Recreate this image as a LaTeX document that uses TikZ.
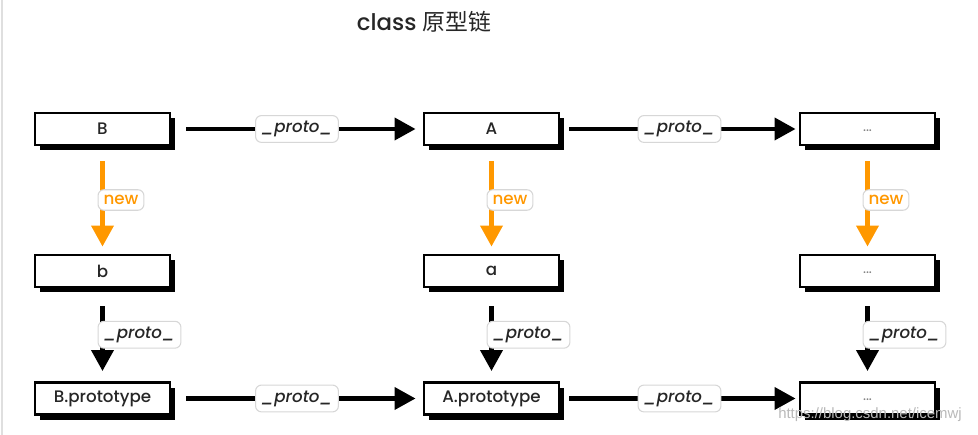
\documentclass[tikz,border=0pt]{standalone}
\usepackage{fontspec}
\setmainfont{Poppins}[UprightFont=* Medium, ItalicFont=* Medium Italic]
\newfontfamily\cjk{Noto Sans CJK SC}
\newfontfamily\wmfont{Liberation Sans}
\usetikzlibrary{arrows.meta,shadows}
\definecolor{neworange}{RGB}{255,152,0}
\definecolor{lblgray}{RGB}{215,215,215}

\begin{document}
\begin{tikzpicture}[every node/.style={font=\fontsize{9.5}{11}\selectfont, text=black!85}, >={Triangle[length=4.2mm, width=4.4mm]},
	box/.style={draw, line width=1.7pt, minimum width=2.7cm, minimum height=6.4mm, inner sep=0pt, fill=white, drop shadow={shadow xshift=0.9mm, shadow yshift=-1.1mm, fill=black, opacity=1}},
	lbl/.style={draw=lblgray, fill=white, rounded corners=1.2mm, line width=0.6pt, inner sep=1.1mm},
	proto/.style={lbl, font=\fontsize{9.5}{10}\selectfont\itshape},
	link/.style={->, line width=2.3pt},
	mk/.style={->, line width=2.3pt, neworange}]
	\useasboundingbox (0,0) rectangle (19.56,-8.7);
	\draw[gray!25, line width=1.2pt] (0.04,0) -- (0.04,-8.7);
	\node (T) at (8.48,-0.44) {\fontsize{13}{15}\selectfont class \cjk 原型链};
	% classes
	\node[box] (B) at (2.05,-2.58) {B};
	\node[box] (A) at (9.83,-2.58) {A};
	\node[box] (X1) at (17.35,-2.58) {\raisebox{-1mm}{\fontsize{7}{8}\selectfont\color{gray}...}};
	% instances
	\node[box] (b) at (2.05,-5.42) {b};
	\node[box] (a) at (9.83,-5.42) {a};
	\node[box] (X2) at (17.35,-5.42) {\raisebox{-1mm}{\fontsize{7}{8}\selectfont\color{gray}...}};
	% prototypes
	\node[box] (Bp) at (2.05,-7.97) {B.prototype};
	\node[box] (Ap) at (9.83,-7.97) {A.prototype};
	\node[box] (X3) at (17.35,-7.97) {\raisebox{-1mm}{\fontsize{7}{8}\selectfont\color{gray}...}};
	% horizontal chains
	\draw[link, shorten <=3mm, shorten >=1.4mm] (B) -- node[proto] (p1) {\_proto\_} (A);
	\draw[link, shorten <=1.8mm, shorten >=0.6mm] (A) -- node[proto] (p2) {\_proto\_} (X1);
	\draw[link, shorten <=3mm, shorten >=1.4mm] (Bp) -- node[proto] (p3) {\_proto\_} (Ap);
	\draw[link, shorten <=1.8mm, shorten >=0.6mm] (Ap) -- node[proto] (p4) {\_proto\_} (X3);
	% new
	\draw[mk, shorten <=3mm, shorten >=1.4mm] (B) -- node[lbl, anchor=west, xshift=-1mm, text=neworange] (n1) {new} (b);
	\draw[mk, shorten <=3mm, shorten >=1.4mm] (A) -- node[lbl, anchor=west, xshift=-1mm, text=neworange] (n2) {new} (a);
	\draw[mk, shorten <=3mm, shorten >=1.4mm] (X1) -- node[lbl, anchor=west, xshift=-1mm, text=neworange] (n3) {new} (X2);
	% instance to prototype
	\draw[link, shorten <=3.6mm, shorten >=2mm] (b) -- node[proto, anchor=west, xshift=-1mm] (q1) {\_proto\_} (Bp);
	\draw[link, shorten <=3.6mm, shorten >=2mm] (a) -- node[proto, anchor=west, xshift=-1mm] (q2) {\_proto\_} (Ap);
	\draw[link, shorten <=3.6mm, shorten >=2mm] (X2) -- node[proto, anchor=west, xshift=-1mm] (q3) {\_proto\_} (X3);
	\node[text=gray!55, font=\wmfont\fontsize{8.5}{10}\selectfont] (wm) at (17.4,-8.3) {https://blog.csdn.net/icemwj};
\end{tikzpicture}
\end{document}
